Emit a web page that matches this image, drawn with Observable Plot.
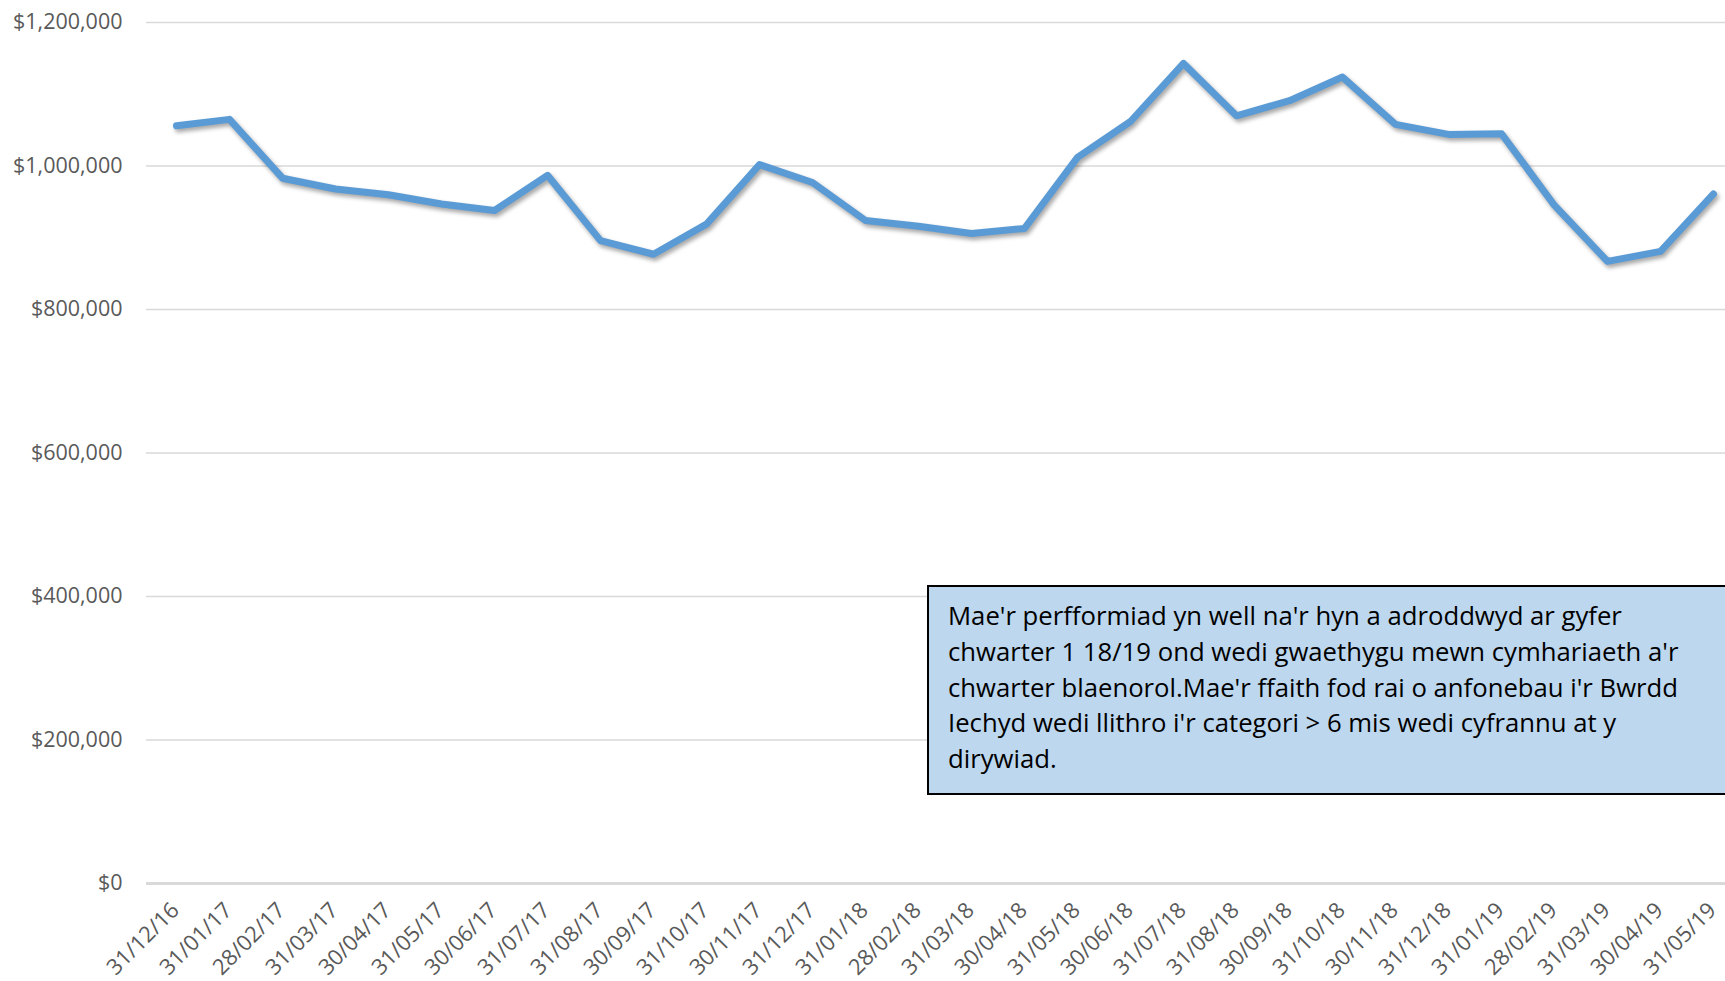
<!DOCTYPE html>
<html>
<head>
<meta charset="utf-8">
<script src="https://cdn.jsdelivr.net/npm/d3@7"></script>
<script src="https://cdn.jsdelivr.net/npm/@observablehq/plot@0.6"></script>
<style>
  html, body { margin: 0; padding: 0; background: #fff; overflow: hidden; }
  #wrap { position: relative; width: 1725px; height: 981px; overflow: hidden; }
  #note {
    position: absolute; left: 927px; top: 585px; width: 900px; height: 210px;
    background: #BDD7EE; border: 2px solid #000; box-sizing: border-box;
    font-family: "Open Sans", sans-serif; font-size: 25.7px; color: #000;
    line-height: 35.8px; padding: 11px 0 0 19px; white-space: nowrap;
  }
</style>
</head>
<body>
<div id="wrap"><div id="chart"></div><div id="note"></div></div>
<script>
const dates = ["31/12/16","31/01/17","28/02/17","31/03/17","30/04/17","31/05/17","30/06/17","31/07/17","31/08/17","30/09/17","31/10/17","30/11/17","31/12/17","31/01/18","28/02/18","31/03/18","30/04/18","31/05/18","30/06/18","31/07/18","31/08/18","30/09/18","31/10/18","30/11/18","31/12/18","31/01/19","28/02/19","31/03/19","30/04/19","31/05/19"];
const values = [1056000,1065000,983000,968000,960000,947000,938000,987000,896000,877000,919000,1002000,977000,924000,916000,906000,913000,1012000,1062000,1143000,1070000,1091000,1124000,1058000,1044000,1045000,945000,867000,881000,961000];
const yTicks = [0,200000,400000,600000,800000,1000000,1200000];
const noteLines = [
  "Mae'r perfformiad yn well na'r hyn a adroddwyd ar gyfer",
  "chwarter 1 18/19 ond wedi gwaethygu mewn cymhariaeth a'r",
  "chwarter blaenorol.Mae'r ffaith fod rai o anfonebau i'r Bwrdd",
  "Iechyd wedi llithro i'r categori > 6 mis wedi cyfrannu at y",
  "dirywiad."
];

const data = dates.map((d, i) => ({date: d, value: values[i]}));
const fmt = d3.format(",");

const chart = Plot.plot({
  width: 1725,
  height: 981,
  marginLeft: 146,
  marginRight: 0,
  marginTop: 22,
  marginBottom: 98,
  style: {fontFamily: "'Open Sans', sans-serif", background: "#fff"},
  x: {type: "point", domain: dates, range: [146, 1742], padding: 0.5, label: null},
  y: {domain: [0, 1200000], label: null},
  marks: [
    Plot.ruleY(yTicks.filter(d => d > 0), {stroke: "#D9D9D9", strokeWidth: 1.7}),
    Plot.ruleY([0], {stroke: "#D9D9D9", strokeWidth: 3}),
    Plot.axisY({ticks: yTicks, tickSize: 0, tickPadding: 24, tickFormat: d => "$" + fmt(d), fontSize: 21.5, fill: "#595959", label: null}),
    Plot.axisX({tickRotate: -45, tickSize: 0, tickPadding: 23, dx: -1, fontSize: 22, fill: "#595959", label: null}),
    Plot.line(data, {x: "date", y: "value", stroke: "#5B9BD5", strokeWidth: 7, strokeLinejoin: "round", strokeLinecap: "round"})
  ]
});
document.getElementById("chart").appendChild(chart);
d3.select(chart).select('g[aria-label="line"]').style("filter", "drop-shadow(2px 3px 2px rgba(0,0,0,0.35))");
const note = document.getElementById("note");
noteLines.forEach((t, i) => {
  if (i) note.appendChild(document.createElement("br"));
  note.appendChild(document.createTextNode(t));
});
</script>
</body>
</html>
